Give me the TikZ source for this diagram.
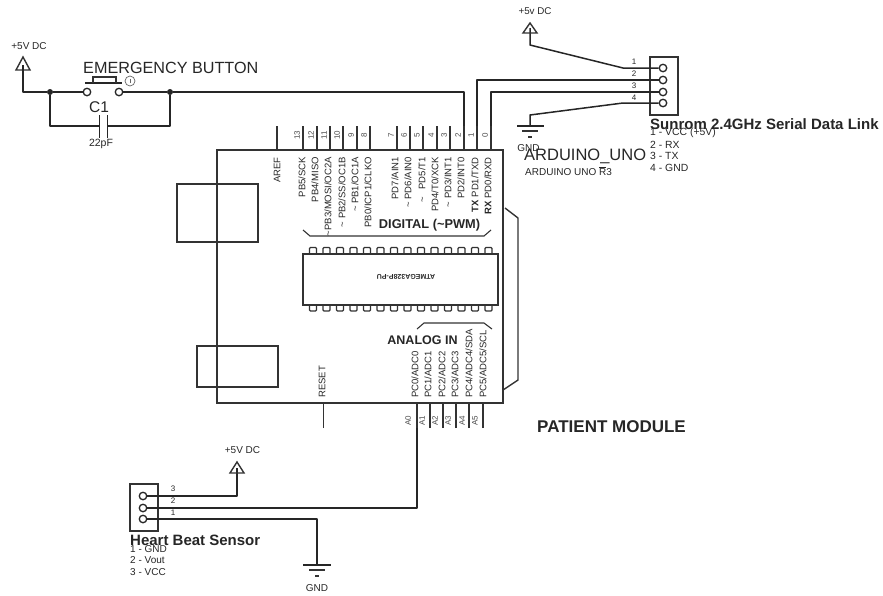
\documentclass[tikz,border=0pt]{standalone}
\usepackage{fontspec}
\setmainfont{Liberation Sans}
\tikzset{
  wire/.style={line width=1.5pt,color=black!85,line join=round},
  outline/.style={line width=1.4pt,color=black!80},
  thin part/.style={line width=1.1pt,color=black!80},
  junction/.style={circle,fill=black!85,inner sep=0pt,minimum size=6pt},
  hole/.style={circle,draw=black!85,line width=1.3pt,inner sep=0pt,minimum size=7.5pt},
  txt/.style={inner sep=0pt,text=black!85,font=\fontsize{#1}{#1}\selectfont},
  txt/.default=8,
  bold txt/.style={inner sep=0pt,text=black!85,font=\fontsize{#1}{#1}\selectfont\bfseries},
  topname/.style={txt=9.5,rotate=90,anchor=east},
  botname/.style={txt=9.5,rotate=90,anchor=west},
  pinnum/.style={txt=8,rotate=90,text=black!70}
}
\begin{document}
\begin{tikzpicture}[x=1pt,y=-1pt]
\useasboundingbox (0,0) rectangle (883,595);
% board
\draw [outline] (217,150) rectangle (503,403);
\draw [outline] (505,208) -- (518,218) -- (518,380) -- (503,390);
\draw [outline] (177,184) rectangle (258,242);
\draw [outline] (197,346) rectangle (278,387);
% chip
\draw [outline] (303,254) rectangle (498,305);
\foreach \x in {313,326.5,340,353.5,367,380.5,394,407.5,421,434.5,448,461.5,475,488.5}{
  \draw [thin part,rounded corners=1pt] (\x-3.5,254) -- (\x-3.5,247.5) -- (\x+3.5,247.5) -- (\x+3.5,254);
  \draw [thin part,rounded corners=1pt] (\x-3.5,305) -- (\x-3.5,311) -- (\x+3.5,311) -- (\x+3.5,305);
}
\node [bold txt=7,rotate=180] (chipname) at (406,277) {ATMEGA328P-PU};
% brackets
\draw [thin part] (303,230) -- (310,236) -- (484,236) -- (491,230);
\draw [thin part] (417,329) -- (424,323) -- (484,323) -- (492,329);
\node [bold txt=12.8] (digitaltext) at (429.5,225) {DIGITAL (\textasciitilde PWM)};
\node [bold txt=12.5] (analogtext) at (422.5,340) {ANALOG IN};
\node [txt=16.5,anchor=west] (boardname) at (524,156) {ARDUINO\_UNO};
\node [txt=10,anchor=west] (boardtype) at (525,171) {ARDUINO UNO $\overline{\mbox{R}}$3};
\node [bold txt=17] (moduletext) at (611.5,427) {PATIENT MODULE};
% digital pins
\coordinate (aref) at (277,126);
\coordinate (pin13) at (303,126);
\coordinate (pin12) at (317,126);
\coordinate (pin11) at (330,126);
\coordinate (pin10) at (343,126);
\coordinate (pin9) at (357,126);
\coordinate (pin8) at (370,126);
\coordinate (pin7) at (397,126);
\coordinate (pin6) at (410,126);
\coordinate (pin5) at (423,126);
\coordinate (pin4) at (437,126);
\coordinate (pin3) at (450,126);
\coordinate (pin2) at (464,126);
\coordinate (pin1) at (477,126);
\coordinate (pin0) at (491,126);
\draw [thin part] (aref) -- ++(0,24);
\draw [thin part] (pin13) -- ++(0,24);
\draw [thin part] (pin12) -- ++(0,24);
\draw [thin part] (pin11) -- ++(0,24);
\draw [thin part] (pin10) -- ++(0,24);
\draw [thin part] (pin9) -- ++(0,24);
\draw [thin part] (pin8) -- ++(0,24);
\draw [thin part] (pin7) -- ++(0,24);
\draw [thin part] (pin6) -- ++(0,24);
\draw [thin part] (pin5) -- ++(0,24);
\draw [thin part] (pin4) -- ++(0,24);
\draw [thin part] (pin3) -- ++(0,24);
\draw [thin part] (pin2) -- ++(0,24);
\draw [thin part] (pin1) -- ++(0,24);
\draw [thin part] (pin0) -- ++(0,24);
\node [pinnum] (num13) at (297,135) {13};
\node [pinnum] (num12) at (311,135) {12};
\node [pinnum] (num11) at (324,135) {11};
\node [pinnum] (num10) at (337,135) {10};
\node [pinnum] (num9) at (351,135) {9};
\node [pinnum] (num8) at (364,135) {8};
\node [pinnum] (num7) at (391,135) {7};
\node [pinnum] (num6) at (404,135) {6};
\node [pinnum] (num5) at (417,135) {5};
\node [pinnum] (num4) at (431,135) {4};
\node [pinnum] (num3) at (444,135) {3};
\node [pinnum] (num2) at (458,135) {2};
\node [pinnum] (num1) at (471,135) {1};
\node [pinnum] (num0) at (485,135) {0};
\node [topname] (namearef) at (277,157) {AREF};
\node [topname] (name13) at (302,157) {PB5/SCK};
\node [topname] (name12) at (315,157) {PB4/MISO};
\node [topname] (name11) at (328,157) {\textasciitilde PB3/MOSI/OC2A};
\node [topname] (name10) at (342,157) {\textasciitilde\ PB2/SS/OC1B};
\node [topname] (name9) at (355,157) {\textasciitilde\ PB1/OC1A};
\node [topname] (name8) at (368,157) {PB0/ICP1/CLKO};
\node [topname] (name7) at (395,157) {PD7/AIN1};
\node [topname] (name6) at (408,157) {\textasciitilde\ PD6/AIN0};
\node [topname] (name5) at (422,157) {\textasciitilde\ \ \ PD5/T1};
\node [topname] (name4) at (435,157) {PD4/T0/XCK};
\node [topname] (name3) at (448,157) {\textasciitilde\ PD3/INT1};
\node [topname] (name2) at (461,157) {PD2/INT0};
\node [topname] (name1) at (475,157) {{\bfseries TX} PD1/TXD};
\node [topname] (name0) at (488,157) {{\bfseries RX} PD0/RXD};
% analog pins
\coordinate (reset) at (323.5,428);
\coordinate (pinA0) at (417,428);
\coordinate (pinA1) at (430,428);
\coordinate (pinA2) at (443,428);
\coordinate (pinA3) at (456,428);
\coordinate (pinA4) at (469,428);
\coordinate (pinA5) at (483,428);
\draw [thin part] (reset) -- ++(0,-25);
\draw [thin part] (pinA0) -- ++(0,-25);
\draw [thin part] (pinA1) -- ++(0,-25);
\draw [thin part] (pinA2) -- ++(0,-25);
\draw [thin part] (pinA3) -- ++(0,-25);
\draw [thin part] (pinA4) -- ++(0,-25);
\draw [thin part] (pinA5) -- ++(0,-25);
\node [botname] (namereset) at (322,398) {RESET};
\node [botname] (nameA0) at (415,398) {PC0/ADC0};
\node [botname] (nameA1) at (428,398) {PC1/ADC1};
\node [botname] (nameA2) at (442,398) {PC2/ADC2};
\node [botname] (nameA3) at (455,398) {PC3/ADC3};
\node [botname] (nameA4) at (469,398) {PC4/ADC4/SDA};
\node [botname] (nameA5) at (483,398) {PC5/ADC5/SCL};
\node [pinnum] (numA0) at (408,421) {A0};
\node [pinnum] (numA1) at (422,421) {A1};
\node [pinnum] (numA2) at (435,421) {A2};
\node [pinnum] (numA3) at (448,421) {A3};
\node [pinnum] (numA4) at (462,421) {A4};
\node [pinnum] (numA5) at (475,421) {A5};
% button and capacitor
\node [txt=10] (vccatext) at (29,46) {+5V DC};
\coordinate (vcca) at (23,70);
\draw [outline] (23,57) -- (16,70) -- (30,70) -- cycle;
\node [junction] (ja) at (50,92) {};
\node [junction] (jb) at (170,92) {};
\node [hole] (swa) at (87,92) {};
\node [hole] (swb) at (119,92) {};
\draw [wire] (vcca) ++(0,-5) -- ++(0,5) |- (ja);
\draw [wire] (ja) -- (swa);
\draw [wire] (swb) -- (jb);
\draw [wire] (85,83) -- (122,83);
\draw [thin part] (93,83) -- (93,77) -- (116,77) -- (116,83);
\node [circle,draw=black!60,line width=.7pt,inner sep=0pt,minimum size=10pt] (swmark) at (130,81) {};
\draw [black!60,line width=.7pt] (swmark.north) ++(0,3) -- ++(0,4);
\node [txt=16.2,anchor=west] (buttontext) at (83,68) {EMERGENCY BUTTON};
\coordinate (capa) at (99.5,126);
\coordinate (capb) at (107.5,126);
\draw [wire] (ja) |- (capa);
\draw [wire] (jb) |- (capb);
\draw [wire] (99.5,115) -- (99.5,138);
\draw [wire] (107.5,115) -- (107.5,138);
\node [txt=15.5] (captext) at (99,107) {C1};
\node [txt=10.5] (capvalue) at (101,144) {22pF};
\draw [wire] (jb) -| (pin2);
% radio link
\draw [outline] (650,57) rectangle (678,115);
\node [hole] (cona) at (663,68) {};
\node [hole] (conb) at (663,80) {};
\node [hole] (conc) at (663,92) {};
\node [hole] (cond) at (663,103) {};
\coordinate (bendb) at (477,80);
\coordinate (bendc) at (491,92);
\coordinate (benda) at (623,68);
\coordinate (bendd) at (623,103);
\coordinate (vccb) at (530,33);
\coordinate (gndb) at (530,126);
\draw [wire] (cona) -- (benda) -- (530,45) -- (vccb) -- ++(0,-5);
\draw [wire] (conb) -- (bendb) -- (pin1);
\draw [wire] (conc) -- (bendc) -- (pin0);
\draw [wire] (cond) -- (bendd) -- (530,115) -- (gndb);
\draw [outline] (530,23) -- (523,33) -- (537,33) -- cycle;
\draw [wire] (517,126) -- (544,126);
\draw [thin part] (522,131) -- (538,131);
\draw [thin part] (528,137) -- (532,137);
\node [txt=9.8] (vccbtext) at (535,11) {+5v DC};
\node [txt=10] (gndbtext) at (528.5,148) {GND};
\node [txt=8] (linknum1) at (634,62) {1};
\node [txt=8] (linknum2) at (634,74) {2};
\node [txt=8] (linknum3) at (634,86) {3};
\node [txt=8] (linknum4) at (634,98) {4};
\node [bold txt=15,anchor=west] (linktext) at (650,124) {Sunrom 2.4GHz Serial Data Link};
\node [txt=10.4,anchor=west] (linkline1) at (650,133) {1 - VCC (+5V)};
\node [txt=10.4,anchor=west] (linkline2) at (650,145) {2 - RX};
\node [txt=10.4,anchor=west] (linkline3) at (650,156) {3 - TX};
\node [txt=10.4,anchor=west] (linkline4) at (650,168) {4 - GND};
% heart beat sensor
\draw [outline] (130,484) rectangle (158,531);
\node [hole] (sensa) at (143,496) {};
\node [hole] (sensb) at (143,508) {};
\node [hole] (sensc) at (143,519) {};
\coordinate (vccc) at (237,473);
\coordinate (gndc) at (317,565);
\draw [wire] (sensa) -| (vccc) -- ++(0,-5);
\draw [wire] (sensb) -| (pinA0);
\draw [wire] (sensc) -| (gndc);
\draw [outline] (237,462) -- (230,473) -- (244,473) -- cycle;
\draw [wire] (303,565) -- (331,565);
\draw [thin part] (309,570) -- (325,570);
\draw [thin part] (315,576) -- (319,576);
\node [txt=10] (vccctext) at (242.5,450) {+5V DC};
\node [txt=10] (gndctext) at (317,588) {GND};
\node [txt=8] (sensnum3) at (173,489) {3};
\node [txt=8] (sensnum2) at (173,501) {2};
\node [txt=8] (sensnum1) at (173,513) {1};
\node [bold txt=15,anchor=west] (senstext) at (130,540) {Heart Beat Sensor};
\node [txt=10,anchor=west] (sensline1) at (130,549) {1 - GND};
\node [txt=10,anchor=west] (sensline2) at (130,560) {2 - Vout};
\node [txt=10,anchor=west] (sensline3) at (130,572) {3 - VCC};
\end{tikzpicture}
\end{document}
